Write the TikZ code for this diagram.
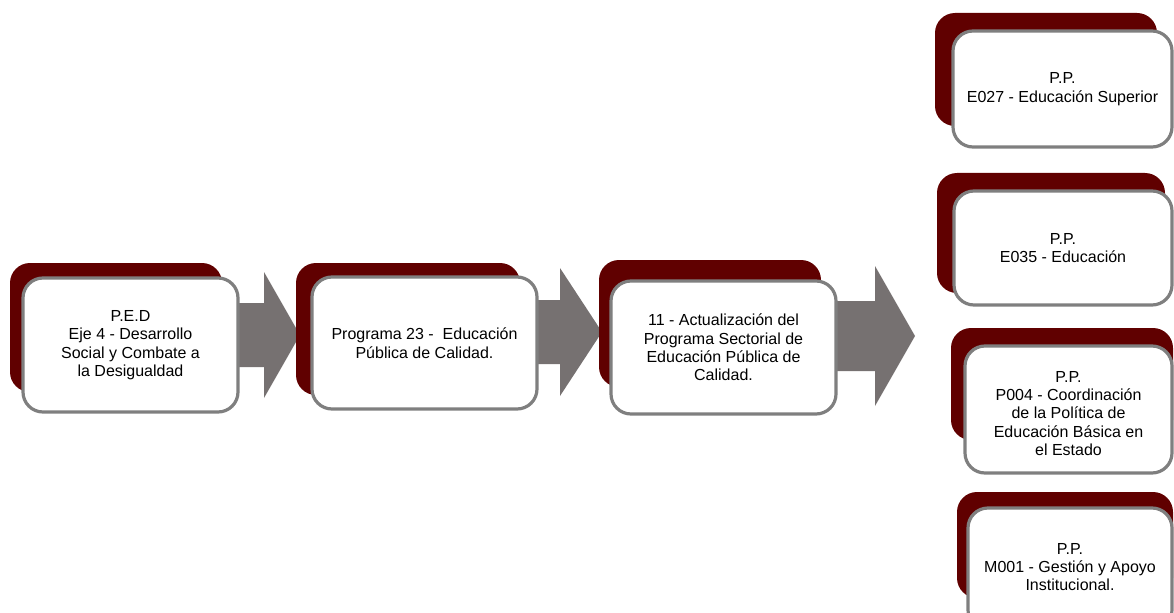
\documentclass[tikz,border=0pt]{standalone}
\usepackage{fontspec}
\setmainfont{Liberation Sans}
\usetikzlibrary{calc}
\definecolor{darkred}{HTML}{600000}
\definecolor{boxborder}{HTML}{7F7F7F}
\definecolor{arrowgray}{HTML}{767171}
\tikzset{
  backbox/.style={fill=darkred, rounded corners=15pt},
  frontbox/.style={draw=boxborder, line width=2.4pt, fill=white, rounded corners=15pt,
    align=center, inner sep=0pt, font=\fontsize{12pt}{13.8pt}\selectfont},
  blockarrow/.style={fill=arrowgray}
}
% #1 name, #2-#5 front x1,y1,x2,y2, #6-#9 back x1,y1,x2,y2, #10 text
\newcommand\stackbox[9]{%
  \fill[backbox] (#6,#7) rectangle (#8,#9);
  \node[frontbox, minimum width={(#4-#2)*0.75pt}, minimum height={(#5-#3)*0.75pt}]
    (#1) at ({(#2+#4)/2},{(#3+#5)/2}) {};
}
% #1 start x, #2 head x, #3 tip x, #4 center y, #5 shaft half, #6 head half
\newcommand\blockarr[6]{%
  \fill[blockarrow] (#1,#4-#5) -- (#2,#4-#5) -- (#2,#4-#6) -- (#3,#4) -- (#2,#4+#6) -- (#2,#4+#5) -- (#1,#4+#5) -- cycle;
}
\begin{document}
\begin{tikzpicture}[x=0.75pt,y=-0.75pt]
\useasboundingbox (0,0) rectangle (1174,613);
% arrows (behind boxes)
\blockarr{230}{264}{300}{335}{32}{63}
\blockarr{530}{560}{602}{332}{32}{64}
\blockarr{830}{875}{915}{336}{35}{70}
% boxes
\stackbox{ped}{23}{278}{238}{412}{10}{263}{222}{392}
\node[frontbox, draw=none, fill=none] at (ped.center) {P.E.D\\Eje 4 - Desarrollo\\Social y Combate a\\la Desigualdad};
\stackbox{prog}{312}{277}{537}{409}{296}{263}{520}{395}
\node[frontbox, draw=none, fill=none] at (prog.center) {Programa 23 -\ \ Educación\\Pública de Calidad.};
\stackbox{act}{611}{281}{836}{414}{599}{260}{821}{387}
\node[frontbox, draw=none, fill=none] at (act.center) {11 - Actualización del\\Programa Sectorial de\\Educación Pública de\\Calidad.};
\stackbox{e027}{953}{31}{1172}{147}{935}{13}{1157}{126}
\node[frontbox, draw=none, fill=none] at (e027.center) {P.P.\\E027 - Educación Superior};
\stackbox{e035}{954}{191}{1172}{305}{937}{173}{1165}{293}
\node[frontbox, draw=none, fill=none] at (e035.center) {P.P.\\E035 - Educación};
\stackbox{p004}{965}{346}{1172}{473}{951}{328}{1173}{440}
\node[frontbox, draw=none, fill=none] at ($(p004.center)+(0,4)$) {P.P.\\P004 - Coordinación\\de la Política de\\Educación Básica en\\el Estado};
\stackbox{m001}{968}{508}{1172}{630}{957}{492}{1173}{598}
\node[frontbox, draw=none, fill=none] at ($(m001.center)+(0,-2)$) {P.P.\\M001 - Gestión y Apoyo\\Institucional.};
\end{tikzpicture}
\end{document}
